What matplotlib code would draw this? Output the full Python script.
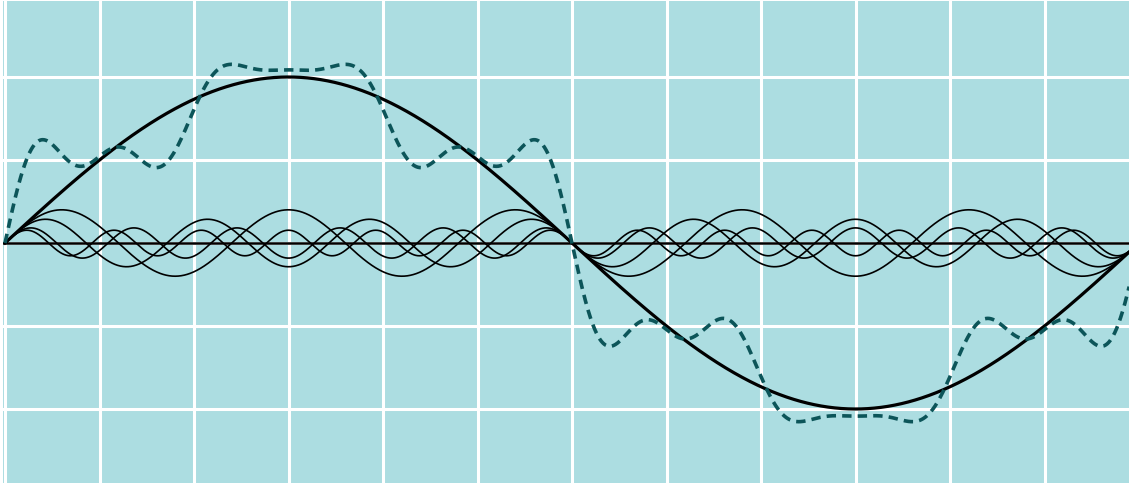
import numpy as np
import matplotlib
matplotlib.use("Agg")
import matplotlib.pyplot as plt

# ---- data (units = grid cells) ----
period = 12.0                      # fundamental period, in grid cells
harmonic_orders = [1, 5, 7, 11, 13]
harmonic_amplitudes = [2.0, 0.40, 0.286, 0.182, 0.154]
grid_x = list(range(0, 13))
grid_y = [-2, -1, 0, 1, 2]

BG = "#acdde1"
DASH_COLOR = "#0c5559"

W, H = 1129, 489
fig = plt.figure(figsize=(W / 100, H / 100), dpi=100)
fig.patch.set_facecolor("white")
left_px, right_px, top_px, bottom_px = 3, 1129, 2, 484
ax = fig.add_axes([left_px / W, (H - bottom_px) / H,
                   (right_px - left_px) / W, (bottom_px - top_px) / H])
ax.set_facecolor(BG)

cell_x, cell_y = 94.5, 83.0
origin_x, origin_y = 5, 244
ax.set_xlim(-(origin_x - left_px) / cell_x, (right_px - origin_x) / cell_x)
ax.set_ylim(-(bottom_px - origin_y) / cell_y, (origin_y - top_px) / cell_y)

for gx in grid_x:
    ax.axvline(gx, color="white", lw=2.2, zorder=1)
for gy in grid_y:
    ax.axhline(gy, color="white", lw=2.2, zorder=1)

x = np.linspace(0, period, 3000)
waves = []
for n, a in zip(harmonic_orders, harmonic_amplitudes):
    waves.append(a * np.sin(2 * np.pi * n * x / period))

# harmonics (thin)
for w in waves[1:]:
    ax.plot(x, w, color="black", lw=1.2, zorder=3)
# zero line
ax.axhline(0, color="black", lw=1.8, zorder=3)
# fundamental (thick)
ax.plot(x, waves[0], color="black", lw=2.3, zorder=4)
# resulting sum (dashed)
total = np.sum(waves, axis=0)
ax.plot(x, total, color=DASH_COLOR, lw=2.6, dashes=(2.6, 1.7), zorder=5)

for s in ax.spines.values():
    s.set_visible(False)
ax.set_xticks([])
ax.set_yticks([])

fig.savefig("out.png", dpi=100, facecolor="white")
